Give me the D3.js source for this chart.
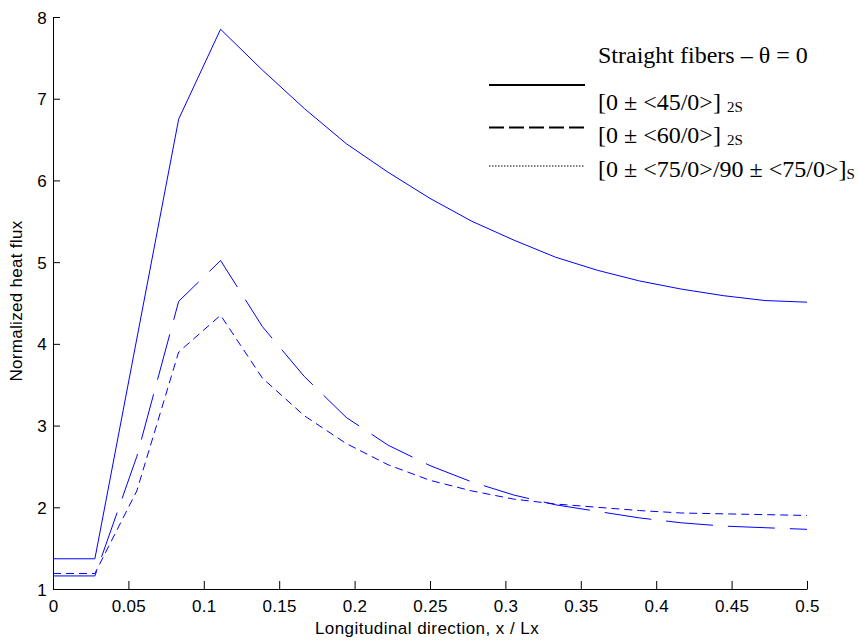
<!DOCTYPE html>
<html>
<head>
<meta charset="utf-8">
<script src="https://cdn.jsdelivr.net/npm/d3@7"></script>
<style>
  html, body { margin: 0; padding: 0; background: #fff; }
  svg { display: block; }
</style>
</head>
<body>
<svg id="chart" width="859" height="640"></svg>
<script>
// ---- data ----
const xValues = [0, 1/36, 2/36, 3/36, 4/36, 5/36, 6/36, 7/36, 8/36, 9/36, 10/36, 11/36, 12/36, 13/36, 14/36, 15/36, 16/36, 17/36, 18/36];
const straight45 = [1.37, 1.37, 4.06, 6.75, 7.85, 7.35, 6.88, 6.45, 6.10, 5.78, 5.50, 5.27, 5.06, 4.90, 4.77, 4.67, 4.59, 4.53, 4.51];
const straight60 = [1.16, 1.16, 2.62, 4.52, 5.02, 4.21, 3.60, 3.10, 2.76, 2.51, 2.31, 2.15, 2.03, 1.95, 1.87, 1.81, 1.77, 1.75, 1.73];
const straight75 = [1.19, 1.19, 2.20, 3.90, 4.35, 3.58, 3.12, 2.78, 2.52, 2.33, 2.20, 2.10, 2.04, 2.00, 1.96, 1.93, 1.92, 1.91, 1.90];
const xTicks = [0, 0.05, 0.1, 0.15, 0.2, 0.25, 0.3, 0.35, 0.4, 0.45, 0.5];
const yTicks = [1, 2, 3, 4, 5, 6, 7, 8];
const legendTitle = "Straight fibers \u2013 \u03b8 = 0";
const seriesLabels = [
  ["[0 \u00b1 <45/0>] ", "2S"],
  ["[0 \u00b1 <60/0>] ", "2S"],
  ["[0 \u00b1 <75/0>/90 \u00b1 <75/0>]", "S"]
];
const xTitle = "Longitudinal direction, x / Lx";
const yTitle = "Normalized heat flux";

// ---- layout ----
const svg = d3.select("#chart");
const pLeft = 53, pRight = 807, pTop = 17, pBottom = 589;
const x = d3.scaleLinear().domain([0, 0.5]).range([pLeft, pRight]);
const y = d3.scaleLinear().domain([1, 8]).range([pBottom, pTop]);

const sansFont = "'Liberation Sans', Arial, sans-serif";
const serifFont = "'Liberation Serif', 'Times New Roman', serif";

// axes
const xAxis = d3.axisBottom(x).tickValues(xTicks).tickSizeInner(-8).tickSizeOuter(0)
  .tickPadding(9).tickFormat(d => d === 0 ? "0" : String(+d.toFixed(2)));
const yAxis = d3.axisLeft(y).tickValues(yTicks).tickSizeInner(-7).tickSizeOuter(0)
  .tickPadding(6).tickFormat(d3.format("d"));

const gx = svg.append("g").attr("transform", `translate(0,${pBottom})`).call(xAxis);
const gy = svg.append("g").attr("transform", `translate(${pLeft},0)`).call(yAxis);
[gx, gy].forEach(g => {
  g.selectAll("path.domain").attr("stroke", "#000").attr("stroke-width", 1);
  g.selectAll(".tick line").attr("stroke", "#000").attr("stroke-width", 1);
  g.selectAll(".tick text").attr("fill", "#000").style("font-family", sansFont)
    .style("font-size", "17px").style("letter-spacing", "0.3px");
});
gx.selectAll(".tick text").attr("dy", "0.85em");
gy.selectAll(".tick text").attr("dy", "0.36em");

// titles
svg.append("text").attr("x", 427).attr("y", 634)
  .attr("text-anchor", "middle").style("font-family", sansFont).style("font-size", "17px")
  .style("letter-spacing", "0.45px").text(xTitle);
svg.append("text").attr("transform", `translate(22,301) rotate(-90)`)
  .attr("text-anchor", "middle").style("font-family", sansFont).style("font-size", "17px")
  .style("letter-spacing", "0.3px").text(yTitle);

// series lines
const line = d3.line().x(d => x(d[0])).y(d => y(d[1]));
const series = [
  { values: straight45, dash: null },
  { values: straight60, dash: "47,15" },
  { values: straight75, dash: "8,5" }
];
series.forEach(s => {
  svg.append("path")
    .datum(xValues.map((xv, i) => [xv, s.values[i]]))
    .attr("d", line)
    .attr("fill", "none")
    .attr("stroke", "#0000ff")
    .attr("stroke-width", 1)
    .attr("stroke-dasharray", s.dash);
});

// legend
const lg = svg.append("g");
lg.append("text").attr("x", 598).attr("y", 63)
  .style("font-family", serifFont).style("font-size", "24px").text(legendTitle);
const legendLines = [
  { y: 85, dash: null, w: 2 },
  { y: 127.5, dash: "15,5", w: 2 },
  { y: 166, dash: "1.5,1.5", w: 1 }
];
const legendText = [110, 143, 177];
legendLines.forEach((l, i) => {
  lg.append("line").attr("x1", 489).attr("x2", 585).attr("y1", l.y).attr("y2", l.y)
    .attr("stroke", "#000").attr("stroke-width", l.w).attr("stroke-dasharray", l.dash);
  const t = lg.append("text").attr("x", 598).attr("y", legendText[i])
    .style("font-family", serifFont).style("font-size", "24px");
  t.append("tspan").text(seriesLabels[i][0]);
  t.append("tspan").attr("dy", 2).style("font-size", "15px").text(seriesLabels[i][1]);
});
</script>
</body>
</html>
